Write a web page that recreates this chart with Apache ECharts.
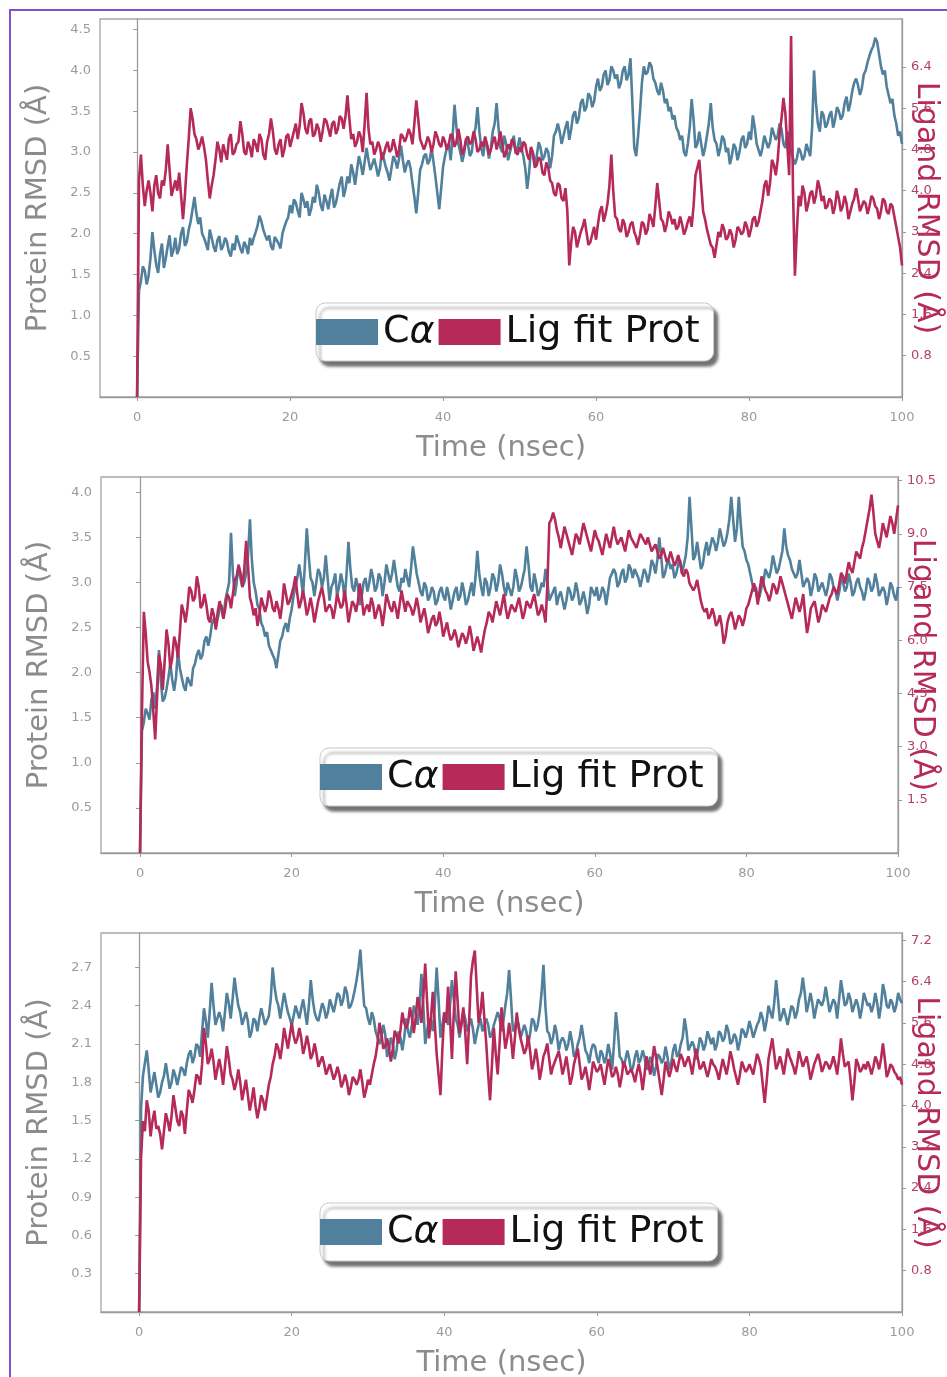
<!DOCTYPE html>
<html>
<head>
<meta charset="utf-8">
<title>RMSD — three systems</title>
<script src="https://cdn.jsdelivr.net/npm/echarts@6/dist/echarts.min.js"></script>
<style>
  html, body { margin: 0; padding: 0; background: #fff; }
  #wrap { position: relative; width: 947px; height: 1377px; overflow: hidden; }
  #chart { position: absolute; left: 0; top: 0; width: 947px; height: 1377px; }
  #frame { position: absolute; left: 9px; top: 9px; width: 960px; height: 1400px;
           border-left: 2px solid #7d52c9; border-top: 2px solid #7d52c9; pointer-events: none; }
</style>
</head>
<body>
<div id="wrap"><div id="chart"></div><div id="frame"></div></div>
<script>
// RMSD traces, one value every 0.25 ns from 0 to 100 ns (first value = frame 0), 5 ns per row
const STEP_NS = 0.25;
const X_TICKS = [0, 20, 40, 60, 80, 100];

// panel 1 — Cα on left axis (Å), ligand on right axis (Å)
const P1_CA = [0,
  1.3,1.42,1.6,1.55,1.38,1.48,1.7,2.02,1.8,1.62,1.52,1.75,1.88,1.58,1.7,1.85,1.98,1.72,1.8,1.95,
  1.75,1.82,2.0,2.08,1.85,1.9,2.05,2.15,2.3,2.45,2.25,2.12,2.2,2.0,1.95,1.88,1.8,2.05,1.95,1.84,
  1.78,1.92,1.97,1.8,1.85,1.95,1.9,1.78,1.72,1.88,1.8,1.98,1.9,1.82,1.76,1.9,1.85,1.75,1.95,1.86,
  1.95,2.02,2.1,2.22,2.15,2.05,1.98,1.92,1.98,1.85,1.8,1.96,1.92,1.88,1.82,2.0,2.08,2.15,2.2,2.35,
  2.25,2.42,2.38,2.28,2.2,2.5,2.42,2.32,2.4,2.22,2.3,2.45,2.38,2.6,2.5,2.35,2.28,2.48,2.4,2.3,
  2.45,2.55,2.32,2.38,2.5,2.62,2.7,2.45,2.55,2.7,2.62,2.85,2.75,2.6,2.78,2.95,2.85,2.72,2.88,3.05,
  2.9,2.78,2.85,2.92,2.82,2.7,2.8,3.0,2.92,2.82,2.75,2.65,2.8,2.95,2.9,2.8,2.92,3.08,2.9,2.75,
  2.85,2.9,2.8,2.62,2.45,2.25,2.5,2.78,2.85,2.95,2.98,2.85,2.9,3.05,2.88,2.7,2.5,2.3,2.55,2.82,
  2.95,3.05,3.1,2.9,3.2,3.58,3.3,3.1,3.0,2.88,2.98,3.15,3.1,2.95,3.0,3.2,3.3,3.55,3.25,3.05,
  2.95,3.15,3.08,2.92,3.05,3.25,3.35,3.6,3.3,3.05,3.0,3.2,3.1,2.9,3.0,3.1,3.2,2.98,3.05,3.18,
  3.05,2.95,2.8,2.55,2.75,3.05,3.0,2.85,2.95,3.12,3.05,2.9,2.95,3.05,3.0,2.8,2.95,3.2,3.25,3.35,
  3.25,3.1,3.2,3.3,3.38,3.15,3.28,3.45,3.5,3.35,3.42,3.6,3.65,3.5,3.55,3.72,3.68,3.55,3.62,3.8,
  3.9,3.75,3.8,3.95,4.0,3.82,3.88,4.05,4.0,3.9,3.95,3.78,3.85,4.0,4.05,3.88,3.95,4.15,3.6,3.05,
  2.95,3.2,3.5,3.85,4.05,3.95,3.98,4.1,4.05,3.9,3.85,3.75,3.7,3.85,3.75,3.6,3.65,3.5,3.55,3.4,
  3.45,3.3,3.25,3.15,3.2,3.0,2.95,3.1,3.3,3.65,3.4,3.05,3.1,3.25,3.1,2.95,3.05,3.2,3.35,3.6,
  3.3,3.15,3.1,2.95,3.05,3.2,3.15,3.0,3.05,2.85,2.95,3.1,3.05,2.9,3.0,3.15,3.2,3.05,3.1,3.25,
  3.15,3.45,3.3,3.1,3.1,2.95,3.05,3.2,3.22,3.05,3.12,3.3,3.28,3.15,3.2,3.35,3.28,3.1,3.05,3.25,
  3.15,3.0,3.0,2.85,2.92,3.05,3.0,2.9,2.95,3.1,3.1,2.95,3.3,4.0,3.6,3.35,3.25,3.5,3.45,3.3,
  3.35,3.45,3.5,3.3,3.4,3.55,3.5,3.4,3.45,3.6,3.68,3.5,3.6,3.75,3.85,3.9,3.82,3.7,3.78,3.95,
  4.0,4.1,4.18,4.25,4.3,4.4,4.35,4.2,4.05,3.95,4.0,3.8,3.7,3.6,3.65,3.45,3.35,3.2,3.25,3.1];
const P1_LIG = [0,
  4.2,4.7,4.1,3.7,4.0,4.2,3.95,3.6,4.1,4.3,3.95,3.85,4.2,4.1,4.4,4.9,4.4,3.9,4.05,4.2,
  4.0,4.35,3.9,3.45,3.9,4.5,5.0,5.6,5.4,5.1,5.0,4.8,4.9,5.05,4.85,4.6,4.2,3.85,4.1,4.3,
  4.6,4.95,4.8,4.55,4.9,4.75,4.6,5.0,5.1,4.7,4.75,4.9,4.95,5.35,5.1,4.75,4.7,4.95,4.85,4.65,
  5.0,4.9,4.75,5.1,5.0,4.7,4.6,4.95,5.1,5.4,5.15,4.8,4.7,4.9,5.0,4.65,4.8,5.05,5.1,4.85,
  5.0,5.15,5.3,5.0,5.25,5.7,5.5,5.2,5.1,5.35,5.4,5.05,5.1,5.3,5.2,4.95,5.15,5.4,5.35,5.2,
  5.05,5.3,5.35,5.1,5.2,5.45,5.4,5.2,5.45,5.85,5.4,5.0,5.1,4.85,4.95,5.15,5.05,4.75,5.3,5.9,
  5.2,4.9,4.95,4.7,4.8,4.95,4.85,4.6,4.7,4.85,4.95,4.75,4.8,5.0,4.85,4.65,4.8,5.1,5.05,4.95,
  5.05,5.2,5.1,4.9,5.3,5.75,5.4,5.0,5.0,4.8,4.9,5.05,4.95,4.75,4.9,5.15,5.05,4.9,4.85,5.05,
  4.95,4.8,4.9,5.1,5.05,4.85,4.95,5.2,5.0,4.7,4.8,5.0,5.05,4.9,4.95,5.15,5.0,4.75,4.8,4.95,
  4.85,5.05,4.9,4.7,4.8,4.95,5.05,4.8,4.95,5.15,4.9,4.65,4.75,4.9,4.8,5.0,4.95,4.75,4.7,4.85,
  4.75,4.95,4.9,4.7,4.6,4.85,4.7,4.45,4.5,4.65,4.6,4.35,4.3,4.55,4.45,4.2,4.15,3.95,3.9,4.15,
  4.1,3.85,3.8,4.05,3.6,2.55,3.0,3.3,3.2,2.9,3.05,3.2,3.3,3.45,3.2,2.95,3.0,3.15,3.3,3.05,
  3.35,3.6,3.7,3.4,3.55,3.75,4.1,4.7,4.0,3.5,3.45,3.25,3.2,3.45,3.35,3.1,3.2,3.35,3.4,3.2,
  3.1,2.95,3.15,3.4,3.35,3.15,3.25,3.55,3.45,3.3,3.7,4.15,3.8,3.45,3.4,3.2,3.35,3.6,3.5,3.35,
  3.45,3.25,3.3,3.5,3.35,3.15,3.25,3.4,3.5,3.3,3.7,4.3,4.45,4.6,4.1,3.6,3.45,3.25,3.1,2.95,
  2.9,2.7,2.95,3.2,3.1,3.35,3.25,3.05,3.1,3.25,3.15,2.9,3.05,3.3,3.25,3.15,3.2,3.4,3.3,3.1,
  3.25,3.45,3.5,3.3,3.4,3.6,3.8,4.1,4.2,3.9,4.15,4.6,4.5,4.3,4.6,5.1,5.4,5.8,5.5,4.9,
  4.3,7.0,4.0,2.35,3.2,3.9,3.7,4.1,3.95,3.6,3.75,3.95,4.0,3.75,3.9,4.2,4.05,3.8,3.9,3.65,
  3.7,3.85,3.8,3.55,3.7,4.0,3.85,3.6,3.7,3.9,3.75,3.45,3.6,3.75,3.85,4.05,3.85,3.6,3.7,3.8,
  3.75,3.55,3.7,3.9,3.85,3.7,3.65,3.45,3.6,3.85,3.8,3.6,3.55,3.75,3.7,3.5,3.3,3.1,2.9,2.55];

// panel 2
const P2_CA = [0,
  1.35,1.45,1.6,1.55,1.48,1.7,1.78,1.6,1.85,2.25,1.9,1.68,1.72,1.82,1.95,2.1,1.92,1.8,1.95,2.25,
  2.05,1.95,1.85,1.8,1.95,1.9,1.85,2.05,2.1,2.2,2.25,2.15,2.2,2.35,2.4,2.3,2.4,2.55,2.6,2.5,
  2.6,2.7,2.75,2.6,2.8,2.9,3.0,3.55,3.1,2.85,3.0,3.2,3.05,2.95,3.0,3.1,3.3,3.7,3.25,3.0,
  2.9,2.75,2.7,2.55,2.5,2.4,2.45,2.3,2.3,2.2,2.15,2.05,2.2,2.35,2.4,2.5,2.55,2.45,2.6,2.7,
  2.85,2.95,3.05,3.2,3.05,2.85,3.2,3.6,3.3,3.05,3.0,2.85,3.0,3.15,3.1,2.95,3.05,3.3,3.05,2.8,
  2.95,3.0,3.1,2.85,2.95,3.1,3.0,2.8,3.1,3.45,3.15,2.95,2.9,3.05,2.95,2.75,2.85,3.0,3.05,2.9,
  3.0,3.15,3.05,2.9,2.95,3.1,3.05,2.85,3.0,3.2,3.1,3.0,3.1,3.25,3.1,2.95,2.9,3.05,3.0,3.15,
  3.05,2.95,3.15,3.4,3.25,3.1,3.0,2.9,2.85,3.0,2.95,2.8,2.85,2.95,2.9,2.75,2.8,2.9,2.95,2.85,
  2.8,2.95,2.85,2.7,2.8,2.9,2.95,2.8,2.85,3.0,2.9,2.75,2.8,2.9,3.0,2.85,3.05,3.35,3.1,2.95,
  2.85,3.05,3.0,2.85,2.95,3.1,3.05,2.9,3.0,3.2,3.1,2.95,2.85,3.0,3.0,2.85,2.95,3.15,3.05,2.9,
  2.95,3.05,3.15,3.4,3.2,2.95,2.9,3.1,3.0,2.85,2.9,3.0,2.95,3.15,3.0,2.8,2.85,2.9,2.95,2.75,
  2.85,2.9,2.8,2.7,2.8,2.95,2.9,2.8,2.85,3.0,2.9,2.75,2.8,2.9,2.8,2.65,2.75,2.95,2.95,2.85,
  2.95,2.8,2.85,2.95,2.9,2.75,2.9,3.05,3.05,3.15,3.1,2.95,3.0,3.1,3.15,3.0,3.05,3.2,3.15,3.05,
  3.15,3.1,3.05,2.95,3.05,3.15,3.1,3.0,3.1,3.25,3.2,3.1,3.25,3.5,3.3,3.05,3.1,3.2,3.25,3.15,
  3.2,3.05,3.1,3.2,3.25,3.1,3.2,3.3,3.5,3.95,3.6,3.25,3.3,3.45,3.3,3.15,3.2,3.35,3.45,3.3,
  3.4,3.5,3.45,3.35,3.45,3.6,3.5,3.4,3.45,3.55,3.7,3.95,3.7,3.45,3.6,3.95,3.65,3.4,3.35,3.25,
  3.2,3.1,3.0,2.9,2.95,2.8,2.85,2.95,3.0,3.15,3.15,3.05,3.15,3.3,3.2,3.1,3.15,3.25,3.35,3.6,
  3.4,3.3,3.25,3.15,3.15,3.05,3.1,3.25,3.1,2.95,2.95,3.05,3.0,2.85,2.95,3.1,3.05,2.9,2.9,3.0,
  3.0,2.85,2.95,3.1,3.05,2.95,2.9,2.8,2.9,3.05,3.0,2.9,2.95,3.1,3.0,2.85,2.9,3.0,3.05,2.95,
  2.9,2.8,2.9,3.05,3.0,2.9,2.95,3.1,3.0,2.85,2.85,2.95,2.9,2.75,2.85,3.0,2.95,2.85,2.8,2.95];
const P2_LIG = [0,
  3.9,6.8,6.2,5.4,5.1,4.7,4.0,3.2,4.4,5.6,5.3,4.6,5.4,6.3,5.9,5.2,5.5,6.1,5.9,5.5,
  6.2,7.0,6.8,6.5,6.9,7.5,7.4,7.1,7.2,7.8,7.5,6.9,7.0,7.3,7.0,6.6,6.5,6.9,6.7,6.3,
  6.8,7.1,6.9,6.6,6.9,7.3,7.2,6.9,7.3,7.7,7.8,8.1,7.9,7.5,8.0,8.8,8.1,7.2,7.0,6.7,
  6.9,6.4,6.7,7.2,7.0,6.8,7.0,7.4,7.2,6.9,6.8,7.1,6.9,6.6,7.0,7.6,7.3,7.0,7.1,7.3,
  7.5,7.8,7.3,6.9,7.1,7.4,7.1,6.7,6.9,7.2,6.9,6.5,6.8,7.1,7.3,7.5,7.2,6.8,6.9,7.0,
  6.9,6.6,6.9,7.3,7.1,6.9,7.0,7.4,7.0,6.5,6.8,7.1,7.0,6.8,7.1,7.6,7.2,6.7,6.9,7.0,
  6.8,7.2,7.0,6.6,6.8,7.0,6.8,6.4,6.8,7.3,7.1,6.9,6.8,7.1,6.9,6.6,7.0,7.4,7.1,6.8,
  7.1,7.0,6.9,6.7,6.9,7.2,6.9,6.5,6.7,6.9,6.6,6.2,6.4,6.6,6.7,6.4,6.5,6.8,6.5,6.1,
  6.3,6.5,6.2,6.0,6.1,6.3,6.1,5.8,6.0,6.2,6.1,5.9,6.1,6.4,6.1,5.7,5.9,6.1,5.9,5.65,
  6.0,6.3,6.5,6.8,6.7,6.5,6.8,7.1,6.9,6.7,7.0,7.3,6.9,6.6,6.8,7.0,6.9,6.8,7.0,7.2,
  6.9,6.6,6.8,7.1,7.0,6.9,7.1,7.3,7.0,6.7,6.8,7.0,6.8,6.5,7.6,9.3,9.4,9.6,9.4,9.1,
  8.9,8.6,8.9,9.2,9.0,8.8,8.6,8.4,8.7,9.0,8.9,8.7,9.0,9.3,9.1,8.9,8.7,8.5,8.8,9.1,
  8.9,8.8,8.6,8.4,8.7,9.0,8.8,8.6,8.9,9.2,8.9,8.7,8.8,8.9,8.7,8.5,8.8,9.1,8.9,8.8,
  8.7,8.6,8.8,9.0,8.9,8.8,8.7,8.9,8.7,8.5,8.6,8.7,8.5,8.3,8.4,8.6,8.4,8.2,8.3,8.5,
  8.3,8.1,8.2,8.4,8.2,7.9,7.8,8.0,7.9,7.6,7.5,7.4,7.5,7.7,7.4,7.1,6.9,6.8,6.9,6.6,
  6.7,6.9,6.7,6.4,6.5,6.7,6.4,5.9,6.1,6.5,6.7,6.8,6.6,6.3,6.5,6.7,6.6,6.4,6.6,6.9,
  7.0,7.2,7.4,7.6,7.4,7.0,7.4,7.8,7.6,7.4,7.3,7.1,7.3,7.6,7.5,7.3,7.5,7.8,7.6,7.4,
  7.2,7.0,6.8,6.6,6.9,7.2,7.0,6.8,7.0,7.3,6.7,6.2,6.5,6.9,7.0,7.1,6.8,6.5,6.7,7.0,
  6.9,6.8,7.0,7.2,7.3,7.5,7.4,7.3,7.6,7.9,7.8,7.6,7.9,8.2,8.0,7.9,8.2,8.5,8.4,8.3,
  8.6,8.8,9.1,9.4,9.7,10.1,9.6,9.0,8.8,8.6,8.9,9.3,9.1,8.9,9.2,9.5,9.3,9.0,9.4,9.8];

// panel 3
const P3_CA = [0,
  1.6,1.85,1.95,2.05,1.9,1.72,1.8,1.88,1.78,1.68,1.72,1.8,1.85,1.95,1.85,1.75,1.8,1.9,1.85,1.78,
  1.85,1.92,1.9,1.85,1.95,2.02,2.05,1.95,2.0,2.1,2.08,2.0,2.2,2.38,2.28,2.15,2.35,2.58,2.4,2.25,
  2.3,2.35,2.3,2.2,2.35,2.5,2.42,2.3,2.45,2.62,2.5,2.4,2.35,2.25,2.3,2.35,2.28,2.15,2.2,2.3,
  2.28,2.2,2.3,2.38,2.32,2.25,2.25,2.32,2.45,2.7,2.55,2.45,2.4,2.3,2.4,2.5,2.42,2.35,2.3,2.25,
  2.32,2.4,2.35,2.3,2.38,2.45,2.35,2.25,2.4,2.6,2.45,2.35,2.3,2.28,2.35,2.42,2.38,2.3,2.35,2.45,
  2.4,2.35,2.42,2.5,2.48,2.4,2.45,2.55,2.5,2.38,2.4,2.45,2.52,2.6,2.7,2.84,2.6,2.4,2.38,2.3,
  2.25,2.35,2.3,2.2,2.15,2.1,2.15,2.25,2.18,2.0,2.05,2.15,2.1,1.98,2.05,2.2,2.15,2.05,2.15,2.3,
  2.2,2.15,2.25,2.4,2.35,2.25,2.4,2.65,2.4,2.1,2.2,2.3,2.28,2.2,2.4,2.7,2.45,2.15,2.25,2.35,
  2.3,2.25,2.4,2.6,2.45,2.3,2.25,2.15,2.25,2.35,2.3,2.2,2.25,2.3,2.22,2.1,2.18,2.25,2.3,2.2,
  2.25,2.3,2.25,2.15,2.18,2.25,2.3,2.35,2.3,2.2,2.28,2.4,2.5,2.68,2.45,2.2,2.22,2.3,2.25,2.15,
  2.2,2.25,2.2,2.1,2.18,2.3,2.28,2.2,2.25,2.35,2.5,2.72,2.4,2.2,2.18,2.1,2.15,2.25,2.18,2.05,
  2.12,2.15,2.12,2.05,2.1,2.2,2.12,2.0,2.02,2.1,2.15,2.25,2.15,2.05,2.02,1.95,2.05,2.1,2.08,2.0,
  1.95,2.05,2.02,1.95,2.0,2.1,2.02,1.9,2.1,2.35,2.2,2.0,1.98,1.92,1.98,2.05,1.98,1.88,1.92,2.0,
  2.05,1.95,1.98,2.05,2.0,1.9,1.92,2.0,1.95,1.85,1.92,2.02,2.0,1.95,1.98,2.08,2.0,1.9,1.95,2.05,
  2.1,2.0,2.02,2.1,2.15,2.3,2.2,2.05,2.05,2.12,2.08,1.98,2.05,2.15,2.12,2.05,2.1,2.2,2.15,2.1,
  2.15,2.05,2.1,2.2,2.18,2.12,2.15,2.25,2.2,2.1,2.12,2.18,2.15,2.05,2.12,2.22,2.2,2.15,2.2,2.28,
  2.22,2.15,2.2,2.25,2.28,2.35,2.3,2.2,2.28,2.4,2.35,2.3,2.42,2.6,2.45,2.28,2.32,2.38,2.32,2.25,
  2.32,2.4,2.38,2.3,2.35,2.45,2.5,2.62,2.5,2.35,2.42,2.5,2.42,2.3,2.38,2.45,2.45,2.4,2.45,2.55,
  2.45,2.35,2.4,2.45,2.42,2.3,2.45,2.6,2.5,2.4,2.42,2.5,2.45,2.35,2.4,2.45,2.4,2.3,2.38,2.5,
  2.45,2.4,2.42,2.35,2.4,2.5,2.42,2.3,2.4,2.57,2.5,2.4,2.38,2.45,2.42,2.35,2.4,2.5,2.45,2.42];
const P3_LIG = [0,
  3.0,3.7,3.5,4.1,3.9,3.4,3.7,3.9,3.55,3.6,3.45,3.15,3.5,3.85,3.7,3.5,3.8,4.2,3.95,3.7,
  3.6,3.9,3.8,3.45,3.9,4.3,4.2,4.05,4.3,4.6,4.55,4.4,4.8,5.5,5.2,4.8,4.9,5.1,4.85,4.5,
  4.7,4.9,4.7,4.4,4.75,5.15,4.9,4.6,4.5,4.3,4.45,4.7,4.45,4.1,4.3,4.5,4.2,3.9,4.1,4.35,
  4.0,3.75,3.95,4.2,4.1,3.9,4.15,4.4,4.55,4.8,4.95,5.2,5.1,4.9,5.15,5.5,5.3,5.1,5.35,5.6,
  5.35,5.2,5.3,5.5,5.3,5.0,5.15,5.35,5.15,4.9,5.0,5.2,5.0,4.75,4.85,4.95,4.8,4.6,4.7,4.8,
  4.65,4.5,4.6,4.75,4.6,4.35,4.45,4.6,4.45,4.2,4.35,4.55,4.5,4.4,4.5,4.7,4.45,4.15,4.3,4.5,
  4.4,4.6,4.8,4.95,5.2,5.6,5.4,5.1,5.15,5.3,5.1,4.85,5.1,5.45,5.35,5.2,5.45,5.8,5.6,5.5,
  5.6,5.9,5.7,5.4,5.7,6.1,5.9,5.6,6.1,6.75,6.0,5.3,5.7,6.2,5.6,5.0,4.6,4.2,5.1,5.8,
  5.6,6.3,5.7,4.9,5.8,6.6,6.0,5.4,5.6,5.9,5.4,4.8,5.6,6.5,6.8,7.0,6.3,5.6,5.8,6.2,
  5.7,5.2,4.6,4.1,4.8,5.5,5.0,4.6,5.2,5.9,5.5,5.1,5.3,5.6,5.3,4.9,5.3,5.8,5.5,5.3,
  5.15,5.0,5.1,5.35,5.05,4.7,4.85,5.1,4.85,4.5,4.7,4.95,5.05,5.2,4.9,4.6,4.75,4.85,4.95,5.05,
  4.85,4.6,4.75,4.95,4.7,4.4,4.55,4.8,4.95,5.1,4.8,4.5,4.6,4.75,4.55,4.3,4.55,4.85,4.75,4.65,
  4.7,4.8,4.6,4.4,4.65,4.9,4.75,4.55,4.6,4.75,4.6,4.35,4.55,4.85,4.75,4.6,4.6,4.7,4.6,4.45,
  4.65,4.8,4.6,4.3,4.6,4.95,4.8,4.6,4.85,5.15,4.95,4.7,4.45,4.2,4.5,4.85,4.7,4.55,4.7,4.9,
  4.75,4.65,4.85,5.0,4.9,4.75,4.85,4.95,4.8,4.6,4.85,5.1,4.9,4.7,4.75,4.85,4.7,4.55,4.7,4.9,
  4.8,4.75,4.65,4.5,4.7,4.9,4.75,4.6,4.8,5.05,4.9,4.7,4.55,4.4,4.6,4.85,4.75,4.65,4.7,4.8,
  4.7,4.6,4.8,5.0,4.9,4.75,4.4,4.05,4.45,4.9,5.1,5.3,5.0,4.7,4.8,4.95,4.8,4.6,4.85,5.1,
  4.95,4.85,4.75,4.6,4.8,5.05,4.9,4.75,4.85,4.95,4.75,4.5,4.65,4.8,4.9,5.0,4.85,4.65,4.75,4.85,
  4.8,4.7,4.8,4.95,4.8,4.6,4.9,5.3,5.0,4.75,4.8,4.85,4.5,4.1,4.45,4.9,4.8,4.65,4.7,4.8,
  4.7,4.85,4.75,4.6,4.75,4.95,4.85,4.7,4.9,5.2,4.9,4.55,4.65,4.8,4.75,4.65,4.6,4.5,4.55,4.4];

// axis ranges and tick labels per panel
const P1_LEFT_TICKS = [0.5, 1.0, 1.5, 2.0, 2.5, 3.0, 3.5, 4.0, 4.5];
const P1_RIGHT_TICKS = [0.8, 1.6, 2.4, 3.2, 4.0, 4.8, 5.6, 6.4];
const P2_LEFT_TICKS = [0.5, 1.0, 1.5, 2.0, 2.5, 3.0, 3.5, 4.0];
const P2_RIGHT_TICKS = [1.5, 3.0, 4.5, 6.0, 7.5, 9.0, 10.5];
const P3_LEFT_TICKS = [0.3, 0.6, 0.9, 1.2, 1.5, 1.8, 2.1, 2.4, 2.7];
const P3_RIGHT_TICKS = [0.8, 1.6, 2.4, 3.2, 4.0, 4.8, 5.6, 6.4, 7.2];

const CA_COLOR = "#50809b", LIG_COLOR = "#b52a58";
const GREY = "#9a9a9a", LIG_TXT = "#b3406b";
const FONT = "DejaVu Sans";

const PANELS = [
  { grid: { left: 100, top: 19, width: 802, height: 378 }, xMin: -4.85,
    left: { max: 4.63, ticks: P1_LEFT_TICKS }, right: { max: 7.33, ticks: P1_RIGHT_TICKS },
    ca: P1_CA, lig: P1_LIG, legend: { left: 316, top: 303 } },
  { grid: { left: 101, top: 477, width: 797, height: 376 }, xMin: -5.15,
    left: { max: 4.17, ticks: P2_LEFT_TICKS }, right: { max: 10.6, ticks: P2_RIGHT_TICKS },
    ca: P2_CA, lig: P2_LIG, legend: { left: 320, top: 748 } },
  { grid: { left: 101, top: 933, width: 801, height: 379 }, xMin: -5.0,
    left: { max: 2.97, ticks: P3_LEFT_TICKS }, right: { max: 7.34, ticks: P3_RIGHT_TICKS },
    ca: P3_CA, lig: P3_LIG, legend: { left: 320, top: 1203 } },
];

const pts = (arr) => arr.map((v, i) => [i * STEP_NS, v]);
const fmt = (v) => Number(v).toFixed(1);

const grid = [], xAxis = [], yAxis = [], series = [], legend = [];
PANELS.forEach((p, k) => {
  grid.push(Object.assign({ show: true, borderColor: "#a5a5a5", borderWidth: 1.3, backgroundColor: "#fff",
    containLabel: false, outerBoundsMode: "none" }, p.grid));
  xAxis.push({
    type: "value", gridIndex: k, min: p.xMin, max: 100,
    axisLine: { show: true, onZero: false, lineStyle: { color: GREY, width: 1.3 } },
    axisTick: { show: true, customValues: X_TICKS, length: 4, lineStyle: { color: GREY } },
    axisLabel: { customValues: X_TICKS, color: "#9b9b9b", fontSize: 13, margin: 14, fontFamily: FONT },
    splitLine: { show: false },
    name: "Time (nsec)", nameLocation: "middle", nameGap: 37, nameMoveOverlap: false,
    nameTextStyle: { color: "#8c8c8c", fontSize: 29, fontFamily: FONT },
  });
  yAxis.push({
    type: "value", gridIndex: k, position: "left", min: 0, max: p.left.max,
    axisLine: { show: true, lineStyle: { color: GREY, width: 1.3 } },
    axisTick: { show: true, customValues: p.left.ticks, length: 4, lineStyle: { color: GREY } },
    axisLabel: { customValues: p.left.ticks, formatter: fmt, color: "#9b9b9b", fontSize: 13, margin: 9, fontFamily: FONT },
    splitLine: { show: false },
    name: "Protein RMSD (Å)", nameLocation: "middle", nameRotate: 90, nameGap: 47, nameMoveOverlap: false,
    nameTextStyle: { color: "#8c8c8c", fontSize: 29, fontFamily: FONT },
  });
  yAxis.push({
    type: "value", gridIndex: k, position: "right", min: 0, max: p.right.max,
    axisLine: { show: true, lineStyle: { color: GREY, width: 1.3 } },
    axisTick: { show: true, customValues: p.right.ticks, length: 4, lineStyle: { color: GREY } },
    axisLabel: { customValues: p.right.ticks, formatter: fmt, color: LIG_TXT, fontSize: 13, margin: 9, fontFamily: FONT },
    splitLine: { show: false },
    name: "Ligand RMSD (Å)", nameLocation: "middle", nameRotate: -90, nameGap: 9, nameMoveOverlap: false,
    nameTextStyle: { color: LIG_COLOR, fontSize: 30, fontFamily: FONT },
  });
  series.push({
    name: "Cα", type: "line", xAxisIndex: k, yAxisIndex: 2 * k, data: pts(p.ca),
    showSymbol: false, symbol: "none", lineStyle: { color: CA_COLOR, width: 2.6 }, itemStyle: { color: CA_COLOR }, z: 2,
  });
  series.push({
    name: "Lig fit Prot", type: "line", xAxisIndex: k, yAxisIndex: 2 * k + 1, data: pts(p.lig),
    showSymbol: false, symbol: "none", lineStyle: { color: LIG_COLOR, width: 2.6 }, itemStyle: { color: LIG_COLOR }, z: 3,
  });
  legend.push({
    left: p.legend.left, top: p.legend.top, orient: "horizontal",
    data: ["Cα", "Lig fit Prot"], icon: "rect", itemWidth: 62, itemHeight: 26, itemGap: 4,
    padding: [10, 14, 10, 0], backgroundColor: "#fff", borderColor: "#c8c8c8", borderWidth: 1, borderRadius: 9,
    shadowColor: "rgba(0,0,0,0.55)", shadowBlur: 3, shadowOffsetX: 4, shadowOffsetY: 5,
    selectedMode: false,
    formatter: (n) => (n === "Cα" ? "{n|C}{g|α}" : "{n|" + n + "}"),
    textStyle: {
      color: "#111", fontSize: 38, fontFamily: FONT,
      rich: { n: { fontSize: 38, fontFamily: FONT, color: "#111" },
              g: { fontSize: 38, fontFamily: FONT, fontStyle: "italic", color: "#111" } },
    },
  });
});

const chart = echarts.init(document.getElementById("chart"), null, { renderer: "canvas" });
chart.setOption({
  animation: false,
  backgroundColor: "#fff",
  textStyle: { fontFamily: FONT },
  grid, xAxis, yAxis, series, legend,
});
</script>
</body>
</html>
